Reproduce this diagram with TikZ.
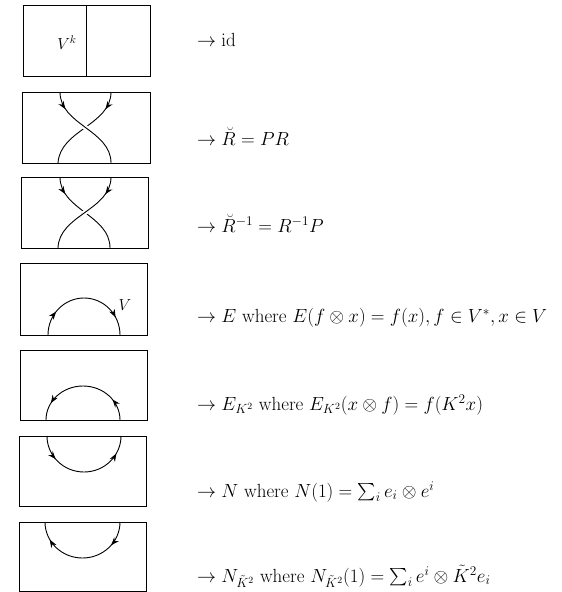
\RequirePackage{fix-cm}
\documentclass[tikz,border=0pt]{standalone}
\usepackage{amsmath}
\usetikzlibrary{arrows.meta,decorations.markings}
\begin{document}
\begin{tikzpicture}[x=1pt,y=1pt,
  frame/.style={draw=black, line width=0.8pt},
  strand/.style={line width=0.9pt},
  over/.style={strand, preaction={draw=white, line width=5pt}},
  mk/.style={postaction={decorate, decoration={markings, mark=at position #1 with {\arrow{Stealth[length=8pt,width=6pt]}}}}},
  lbl/.style={anchor=base west, inner sep=0pt, font=\fontsize{19}{23}\selectfont},
  tag/.style={inner sep=0pt, font=\fontsize{16}{19}\selectfont},
]
\useasboundingbox (0,0) rectangle (562,-592);

% Box 1: identity
\draw[frame] (23,-5) rectangle (150,-76);
\draw[frame] (86,-5) -- (86,-76);
\node[tag] (vk) at (67,-43) {$V^k$};

% Box 2: R-breve (top-left strand over)
\draw[strand, mk=0.2] (111,-92) .. controls (111,-125) and (60,-130) .. (58,-163);
\draw[over, mk=0.2] (60,-92) .. controls (60,-125) and (111,-130) .. (111,-163);
\draw[frame] (22,-92) rectangle (150,-163);

% Box 3: R-breve inverse (top-right strand over)
\draw[strand, mk=0.2] (60,-177) .. controls (60,-210) and (110,-215) .. (110,-248);
\draw[over, mk=0.2] (111,-177) .. controls (111,-210) and (59,-215) .. (58,-248);
\draw[frame] (21,-177) rectangle (148,-248);

% Box 4: E (cap)
\draw[strand, mk=0.22, mk=0.84] (48,-335) arc[start angle=180, end angle=0, x radius=36, y radius=37];
\draw[frame] (20,-263) rectangle (147,-335);
\node[tag] (vlab) at (125,-305) {$V$};

% Box 5: E_{K^2} (cap, reversed)
\draw[strand, mk=0.2, mk=0.84] (120,-420) arc[start angle=0, end angle=180, x radius=37, y radius=34];
\draw[frame] (20,-350) rectangle (147,-420);

% Box 6: N (cup)
\draw[strand, mk=0.22, mk=0.84] (47,-436) arc[start angle=180, end angle=360, x radius=37, y radius=36];
\draw[frame] (19,-436) rectangle (146,-506);

% Box 7: N_{K^2} (cup, reversed)
\draw[strand, mk=0.22, mk=0.84] (120,-522) arc[start angle=0, end angle=-180, x radius=37.5, y radius=36];
\draw[frame] (19,-522) rectangle (146,-591);

% Texts
\node[lbl] (t1) at (197,-46) {$\to \mathrm{id}$};
\node[lbl] (t2) at (197,-145) {$\to \breve{R} = PR$};
\node[lbl] (t3) at (197,-232) {$\to \breve{R}^{-1} = R^{-1}P$};
\node[lbl] (t4) at (197,-322) {$\to E$ where $E(f\otimes x) = f(x), f\in V^*, x\in V$};
\node[lbl] (t5) at (197,-410) {$\to E_{K^2}$ where $E_{K^2}(x\otimes f) = f(K^2x)$};
\node[lbl] (t6) at (197,-497) {$\to N$ where $N(1) = \sum_i e_i\otimes e^i$};
\node[lbl] (t7) at (197,-582) {$\to N_{\tilde K^2}$ where $N_{\tilde K^2}(1) = \sum_i e^i\otimes \tilde K^2 e_i$};
\end{tikzpicture}
\end{document}
